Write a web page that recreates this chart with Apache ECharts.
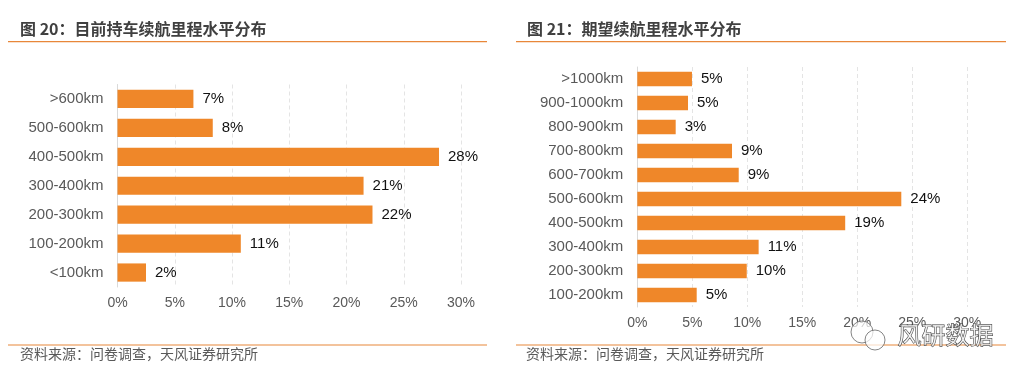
<!DOCTYPE html>
<html>
<head>
<meta charset="utf-8">
<script src="https://cdn.jsdelivr.net/npm/echarts@6/dist/echarts.min.js"></script>
<style>
html,body{margin:0;padding:0;background:#fff;}
#chart{width:1029px;height:382px;}
</style>
</head>
<body>
<div id="chart"></div>
<script>
// Figure 20: current range distribution (top to bottom)
const leftCategories = ['>600km', '500-600km', '400-500km', '300-400km', '200-300km', '100-200km', '<100km'];
const leftValues = [6.63, 8.32, 28.08, 21.49, 22.27, 10.77, 2.49];
// Figure 21: expected range distribution (top to bottom)
const rightCategories = ['>1000km', '900-1000km', '800-900km', '700-800km', '600-700km', '500-600km', '400-500km', '300-400km', '200-300km', '100-200km'];
const rightValues = [4.97, 4.61, 3.49, 8.61, 9.22, 24.0, 18.9, 11.03, 9.95, 5.4];
const xTicks = [0, 5, 10, 15, 20, 25, 30];

const leftTitle = '图 20：目前持车续航里程水平分布';
const rightTitle = '图 21：期望续航里程水平分布';
const sourceText = '资料来源：问卷调查，天风证券研究所';
const watermark = '风研数据';

const ORANGE = '#EF8729';
const LINE = '#E8873A';
const LATIN = "'Liberation Sans', Arial, sans-serif";
const CJK = "'Noto Sans CJK SC', sans-serif";

const chart = echarts.init(document.getElementById('chart'), null, {renderer: 'canvas'});

function xAxis(gridIndex) {
  return {
    type: 'value', gridIndex: gridIndex,
    min: xTicks[0], max: xTicks[xTicks.length - 1], interval: xTicks[1] - xTicks[0],
    axisLine: {show: false}, axisTick: {show: false},
    splitLine: {show: true, lineStyle: {color: '#e4e4e4', type: [4, 3], width: 1}},
    axisLabel: {formatter: '{value}%', color: '#595959', fontSize: 14, fontFamily: LATIN, margin: 9}
  };
}
function yAxis(gridIndex, cats) {
  return {
    type: 'category', gridIndex: gridIndex, data: cats, inverse: true,
    axisLine: {show: true, lineStyle: {color: '#d9d9d9', width: 1}},
    axisTick: {show: false},
    splitLine: {show: false},
    axisLabel: {color: '#595959', fontSize: 15, fontFamily: LATIN, margin: 14}
  };
}
function barSeries(idx, vals, gap) {
  return {
    type: 'bar', xAxisIndex: idx, yAxisIndex: idx, data: vals,
    barCategoryGap: gap,
    itemStyle: {color: ORANGE},
    label: {
      show: true, position: 'right', distance: 9,
      color: '#111', fontSize: 15, fontFamily: LATIN,
      formatter: p => Math.round(p.value) + '%'
    },
    silent: true
  };
}

function hline(x1, x2, y) {
  return {type: 'line', shape: {x1: x1, y1: y, x2: x2, y2: y}, style: {stroke: LINE, lineWidth: 1.2}, silent: true};
}

chart.setOption({
  animation: false,
  backgroundColor: '#fff',
  grid: [
    {left: 117.5, top: 84.5, width: 343.5, height: 202.5},
    {left: 637.3, top: 67, width: 330, height: 240}
  ],
  xAxis: [xAxis(0), xAxis(1)],
  yAxis: [yAxis(0, leftCategories), yAxis(1, rightCategories)],
  series: [barSeries(0, leftValues, '37%'), barSeries(1, rightValues, '39%')],
  graphic: [
    hline(8, 487, 41.7),
    hline(516, 1006, 41.7),
    hline(8, 487, 345),
    hline(516, 1006, 345),
    {type: 'text', left: 20, top: 20.5, style: {text: leftTitle, fill: '#404040', font: 'bold 16px ' + CJK}},
    {type: 'text', left: 527, top: 20.5, style: {text: rightTitle, fill: '#404040', font: 'bold 16px ' + CJK}},
    {type: 'text', left: 20, top: 347, style: {text: sourceText, fill: '#595959', font: '14px ' + CJK}},
    {type: 'text', left: 526, top: 347, style: {text: sourceText, fill: '#595959', font: '14px ' + CJK}},
    {type: 'circle', z: 99, shape: {cx: 862, cy: 332, r: 11}, style: {fill: 'rgba(255,255,255,0.7)', stroke: '#666', lineWidth: 0.8}, silent: true},
    {type: 'circle', z: 99, shape: {cx: 875, cy: 340, r: 10}, style: {fill: 'rgba(255,255,255,0.7)', stroke: '#666', lineWidth: 0.8}, silent: true},
    {type: 'text', left: 897, top: 322, z: 100, style: {text: watermark, fill: 'rgba(255,255,255,0.7)', stroke: '#333', lineWidth: 0.9, font: '24px ' + CJK}}
  ]
});
</script>
</body>
</html>
